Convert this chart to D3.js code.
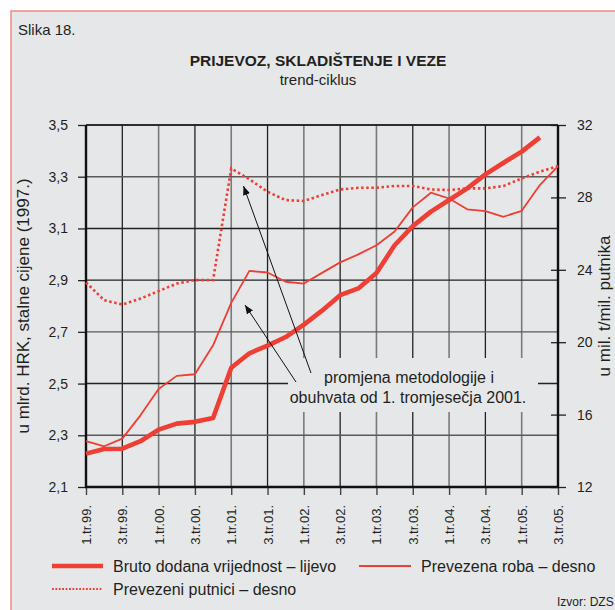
<!DOCTYPE html>
<html>
<head>
<meta charset="utf-8">
<script src="https://cdn.jsdelivr.net/npm/d3@7"></script>
<style>
  html, body { margin: 0; padding: 0; background: #fff; }
  svg { display: block; font-family: "Liberation Sans", Arial, Helvetica, sans-serif; }
</style>
</head>
<body>
<svg id="chart" width="615" height="610"></svg>
<script>
// ---------- DATA ----------
const quarters = [
  "1.tr.99.", "2.tr.99.", "3.tr.99.", "4.tr.99.",
  "1.tr.00.", "2.tr.00.", "3.tr.00.", "4.tr.00.",
  "1.tr.01.", "2.tr.01.", "3.tr.01.", "4.tr.01.",
  "1.tr.02.", "2.tr.02.", "3.tr.02.", "4.tr.02.",
  "1.tr.03.", "2.tr.03.", "3.tr.03.", "4.tr.03.",
  "1.tr.04.", "2.tr.04.", "3.tr.04.", "4.tr.04.",
  "1.tr.05.", "2.tr.05.", "3.tr.05."
];
const tickLabels = [
  "1.tr.99.", "3.tr.99.", "1.tr.00.", "3.tr.00.", "1.tr.01.", "3.tr.01.", "1.tr.02.",
  "3.tr.02.", "1.tr.03.", "3.tr.03.", "1.tr.04.", "3.tr.04.", "1.tr.05.", "3.tr.05."
];
// Bruto dodana vrijednost – lijevo (mlrd. HRK)
const bdv = [2.229, 2.247, 2.248, 2.277, 2.322, 2.345, 2.352, 2.367, 2.561, 2.617,
             2.647, 2.680, 2.728, 2.782, 2.842, 2.868, 2.928, 3.035, 3.109, 3.165,
             3.210, 3.255, 3.309, 3.354, 3.397, 3.452, null];
// Prevezena roba – desno (mil. t)
const roba = [14.53, 14.25, 14.67, 15.96, 17.42, 18.14, 18.23, 19.83, 22.17, 23.94,
              23.85, 23.34, 23.24, 23.83, 24.41, 24.85, 25.36, 26.12, 27.45, 28.26,
              27.94, 27.34, 27.24, 26.93, 27.26, 28.68, 29.73];
// Prevezeni putnici – desno (mil. putnika)
const putnici = [23.30, 22.32, 22.08, 22.41, 22.82, 23.24, 23.43, 23.43, 29.60, 29.00,
                 28.31, 27.85, 27.80, 28.13, 28.44, 28.53, 28.53, 28.63, 28.63, 28.44,
                 28.41, 28.50, 28.50, 28.63, 29.05, 29.42, 29.73];
const leftTicks = [2.1, 2.3, 2.5, 2.7, 2.9, 3.1, 3.3, 3.5];
const rightTicks = [12, 16, 20, 24, 28, 32];

(function () {
// ---------- LAYOUT ----------
const svg = d3.select("#chart");
const W = 615, H = 610;
const pL = 86, pR = 558, pT = 125, pB = 487;
const red = "#ef3e33";
const bg = "#e6e7e9";
const ink = "#231f20";

svg.append("rect").attr("x", 0).attr("y", 0).attr("width", W).attr("height", H).attr("fill", "#fff");
svg.append("rect").attr("x", 11).attr("y", 11).attr("width", W + 10).attr("height", H + 10)
  .attr("fill", bg).attr("stroke", "#f08a85").attr("stroke-width", 1.5);

const x = d3.scalePoint().domain(quarters).range([pL, pR]);
const yL = d3.scaleLinear().domain([2.1, 3.5]).range([pB, pT]);
const yR = d3.scaleLinear().domain([12, 32]).range([pB, pT]);

// Titles
svg.append("text").attr("x", 18).attr("y", 35).attr("font-size", 15).attr("fill", ink).text("Slika 18.");
svg.append("text").attr("x", 318).attr("y", 66).attr("text-anchor", "middle")
  .attr("font-size", 15.5).attr("font-weight", "bold").attr("fill", ink).text("PRIJEVOZ, SKLADIŠTENJE I VEZE");
svg.append("text").attr("x", 318).attr("y", 85).attr("text-anchor", "middle")
  .attr("font-size", 15).attr("fill", ink).text("trend-ciklus");

// Gridlines
const grid = svg.append("g");
tickLabels.forEach((q, i) => {
  if (i === 0 || i === tickLabels.length - 1) return;
  grid.append("line").attr("x1", x(q)).attr("x2", x(q)).attr("y1", pT).attr("y2", pB)
    .attr("stroke", i % 2 === 0 ? "#7a7a7a" : "#222").attr("stroke-width", i % 2 === 0 ? 1.6 : 1.3);
});
leftTicks.forEach((v, i) => {
  if (i === 0) return;
  grid.append("line").attr("x1", pL).attr("x2", pR).attr("y1", yL(v)).attr("y2", yL(v))
    .attr("stroke", (v === 2.3 || v === 2.7 || v === 3.3) ? "#5a5a5a" : "#222").attr("stroke-width", 1.4);
});

// Annotation background box (covers gridlines)
svg.append("rect").attr("x", 288).attr("y", 358).attr("width", 250).attr("height", 54).attr("fill", bg);

// Axes
const axL = svg.append("g").attr("transform", `translate(${pL},0)`)
  .call(d3.axisLeft(yL).tickValues(leftTicks).tickSize(8).tickPadding(10)
    .tickFormat(d => d3.format(".1f")(d).replace(".", ",")));
axL.select(".domain").remove();
axL.selectAll(".tick line").attr("stroke", "#222").attr("stroke-width", 1.3);
axL.selectAll(".tick text").attr("font-size", 14).attr("fill", ink).attr("font-family", null);

const axR = svg.append("g").attr("transform", `translate(${pR},0)`)
  .call(d3.axisRight(yR).tickValues(rightTicks).tickSize(8).tickPadding(11).tickFormat(d3.format("d")));
axR.select(".domain").remove();
axR.selectAll(".tick line").attr("x1", -7).attr("x2", 8).attr("stroke", "#222").attr("stroke-width", 1.3);
axR.selectAll(".tick text").attr("font-size", 14).attr("fill", ink).attr("font-family", null);

const axB = svg.append("g").attr("transform", `translate(0,${pB})`)
  .call(d3.axisBottom(x).tickValues(tickLabels).tickSize(8).tickPadding(0));
axB.select(".domain").remove();
axB.selectAll(".tick line").attr("stroke", "#444").attr("stroke-width", 1.4);
axB.selectAll(".tick text").attr("font-size", 13).attr("fill", ink).attr("font-family", null)
  .attr("text-anchor", "end").attr("dy", null)
  .attr("transform", "translate(4.5,18) rotate(-90)").attr("x", 0).attr("y", 0);

// frame lines
svg.append("line").attr("x1", pL).attr("x2", pR).attr("y1", pT).attr("y2", pT)
  .attr("stroke", "#222").attr("stroke-width", 1.5);
svg.append("line").attr("x1", pL).attr("x2", pL).attr("y1", pT).attr("y2", pB + 1)
  .attr("stroke", "#111").attr("stroke-width", 2.4);
svg.append("line").attr("x1", pR).attr("x2", pR).attr("y1", pT).attr("y2", pB + 1)
  .attr("stroke", "#111").attr("stroke-width", 2.4);
svg.append("line").attr("x1", pL - 1).attr("x2", pR + 1).attr("y1", pB).attr("y2", pB)
  .attr("stroke", "#111").attr("stroke-width", 2.4);

// Axis titles
svg.append("text").attr("transform", `translate(29,${(pT + pB) / 2}) rotate(-90)`)
  .attr("text-anchor", "middle").attr("font-size", 17).attr("fill", ink)
  .text("u mlrd. HRK, stalne cijene (1997.)");
svg.append("text").attr("transform", `translate(610,${(pT + pB) / 2}) rotate(-90)`)
  .attr("text-anchor", "middle").attr("font-size", 17).attr("fill", ink)
  .text("u mil. t/mil. putnika");

// Series
const lineL = d3.line().defined(d => d != null).x((d, i) => x(quarters[i])).y(d => yL(d));
const lineR = d3.line().defined(d => d != null).x((d, i) => x(quarters[i])).y(d => yR(d));

svg.append("path").datum(putnici).attr("d", lineR).attr("fill", "none").attr("stroke", red)
  .attr("stroke-width", 2.6).attr("stroke-dasharray", "2.5,2.6");
svg.append("path").datum(roba).attr("d", lineR).attr("fill", "none").attr("stroke", red)
  .attr("stroke-width", 1.8).attr("stroke-linejoin", "round");
svg.append("path").datum(bdv).attr("d", lineL).attr("fill", "none").attr("stroke", red)
  .attr("stroke-width", 4.6).attr("stroke-linejoin", "round");

// Annotation
const defs = svg.append("defs");
defs.append("marker").attr("id", "arr").attr("viewBox", "0 0 10 10").attr("refX", 10).attr("refY", 5)
  .attr("markerWidth", 9).attr("markerHeight", 9).attr("markerUnits", "userSpaceOnUse").attr("orient", "auto")
  .append("path").attr("d", "M0,1 L10,5 L0,9 Z").attr("fill", "#111");
svg.append("line").attr("x1", 311).attr("y1", 373).attr("x2", 243.5).attr("y2", 186)
  .attr("stroke", "#111").attr("stroke-width", 1).attr("marker-end", "url(#arr)");
svg.append("line").attr("x1", 296).attr("y1", 382).attr("x2", 245).attr("y2", 305)
  .attr("stroke", "#111").attr("stroke-width", 1).attr("marker-end", "url(#arr)");
svg.append("text").attr("x", 409).attr("y", 383).attr("text-anchor", "middle").attr("font-size", 16)
  .attr("fill", ink).text("promjena metodologije i");
svg.append("text").attr("x", 408).attr("y", 403).attr("text-anchor", "middle").attr("font-size", 16)
  .attr("fill", ink).text("obuhvata od 1. tromjesečja 2001.");

// Legend
const lg = svg.append("g");
lg.append("line").attr("x1", 52).attr("x2", 103).attr("y1", 566).attr("y2", 566)
  .attr("stroke", red).attr("stroke-width", 4.6);
lg.append("text").attr("x", 113).attr("y", 572).attr("font-size", 16).attr("fill", ink)
  .text("Bruto dodana vrijednost – lijevo");
lg.append("line").attr("x1", 359).attr("x2", 411).attr("y1", 566).attr("y2", 566)
  .attr("stroke", red).attr("stroke-width", 1.8);
lg.append("text").attr("x", 421).attr("y", 572).attr("font-size", 16).attr("fill", ink)
  .text("Prevezena roba – desno");
lg.append("line").attr("x1", 52).attr("x2", 103).attr("y1", 589).attr("y2", 589)
  .attr("stroke", red).attr("stroke-width", 2).attr("stroke-dasharray", "1.8,1.6");
lg.append("text").attr("x", 113).attr("y", 595).attr("font-size", 16).attr("fill", ink)
  .text("Prevezeni putnici – desno");
svg.append("text").attr("x", 557).attr("y", 606).attr("font-size", 12).attr("fill", ink).text("Izvor: DZS");
})();
</script>
</body>
</html>
